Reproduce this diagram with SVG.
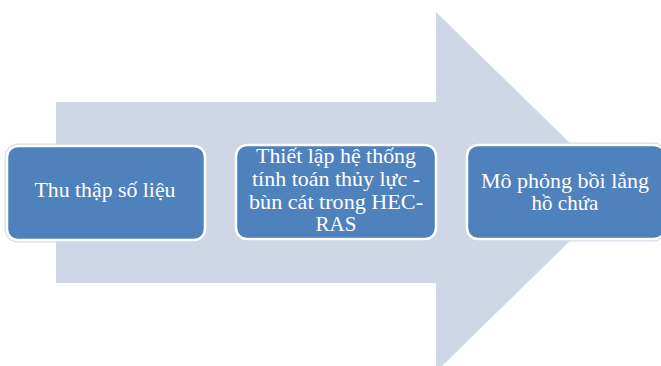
<svg xmlns="http://www.w3.org/2000/svg" width="661" height="366" viewBox="0 0 661 366">
<defs>
<rect id="boxshape" width="198" height="94" rx="11"/>
</defs>
<rect width="661" height="366" fill="#FFFFFF"/>
<g id="connectors">
<polygon points="56,102 436,102 436,12 620,192 436,372 436,283 56,283" fill="#CFD7E6"/>
</g>
<g id="node1">
<rect x="7" y="146" width="198" height="94" rx="11" fill="none" stroke="#C9D6E8" stroke-width="5" opacity="0.8"/>
<rect x="7" y="146" width="198" height="94" rx="11" fill="#4F81BD" stroke="#FFFFFF" stroke-width="2.5"/>
<text x="105" y="197" font-family="'Liberation Serif', serif" font-size="21" fill="#FFFFFF" text-anchor="middle" textLength="141" lengthAdjust="spacingAndGlyphs">Thu thập số liệu</text>
</g>
<g id="node2">
<rect x="236" y="145" width="200" height="94" rx="11" fill="none" stroke="#C9D6E8" stroke-width="5" opacity="0.8"/>
<rect x="236" y="145" width="200" height="94" rx="11" fill="#4F81BD" stroke="#FFFFFF" stroke-width="2.5"/>
<text x="336" y="163" font-family="'Liberation Serif', serif" font-size="21" fill="#FFFFFF" text-anchor="middle" textLength="160" lengthAdjust="spacingAndGlyphs">Thiết lập hệ thống</text>
<text x="336" y="186" font-family="'Liberation Serif', serif" font-size="21" fill="#FFFFFF" text-anchor="middle" textLength="168" lengthAdjust="spacingAndGlyphs">tính toán thủy lực -</text>
<text x="336" y="209" font-family="'Liberation Serif', serif" font-size="21" fill="#FFFFFF" text-anchor="middle" textLength="174" lengthAdjust="spacingAndGlyphs">bùn cát trong HEC-</text>
<text x="336" y="231" font-family="'Liberation Serif', serif" font-size="21" fill="#FFFFFF" text-anchor="middle">RAS</text>
</g>
<g id="node3">
<rect x="467" y="145" width="198" height="94" rx="11" fill="none" stroke="#C9D6E8" stroke-width="5" opacity="0.8"/>
<rect x="467" y="145" width="198" height="94" rx="11" fill="#4F81BD" stroke="#FFFFFF" stroke-width="2.5"/>
<text x="565" y="188" font-family="'Liberation Serif', serif" font-size="21" fill="#FFFFFF" text-anchor="middle" textLength="168" lengthAdjust="spacingAndGlyphs">Mô phỏng bồi lắng</text>
<text x="565" y="210" font-family="'Liberation Serif', serif" font-size="21" fill="#FFFFFF" text-anchor="middle">hồ chứa</text>
</g>
</svg>
